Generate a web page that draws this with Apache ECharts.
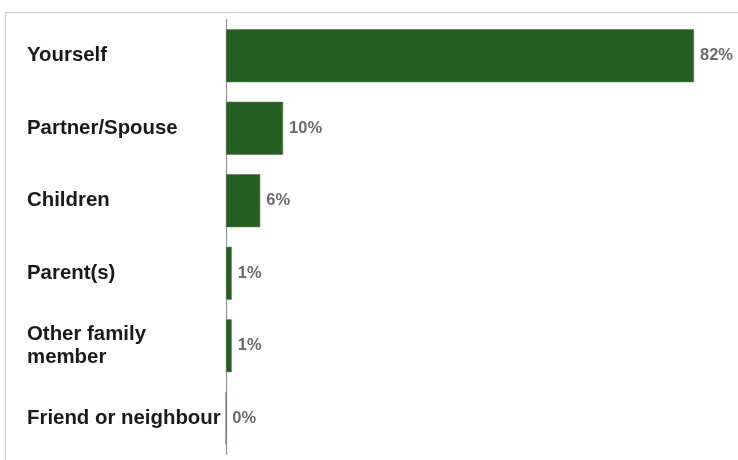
<!DOCTYPE html>
<html>
<head>
<meta charset="utf-8">
<script src="https://cdn.jsdelivr.net/npm/echarts@6/dist/echarts.min.js"></script>
<style>
  html, body { margin: 0; padding: 0; background: #fff; }
  #chart { width: 738px; height: 460px; }
</style>
</head>
<body>
<div id="chart"></div>
<script>
// Who the care is for, share of respondents (%)
const categories = ['Yourself', 'Partner/Spouse', 'Children', 'Parent(s)', 'Other family\nmember', 'Friend or neighbour'];
const shares = [82, 10, 6, 1, 1, 0];

const chart = echarts.init(document.getElementById('chart'));
chart.setOption({
  animation: false,
  grid: { left: 226, right: 44, top: 19.5, bottom: 5.5, containLabel: false },
  xAxis: {
    type: 'value', min: 0, max: 82,
    show: false
  },
  yAxis: {
    type: 'category',
    data: categories,
    inverse: true,
    axisLine: { show: true, lineStyle: { color: '#8c8c8c', width: 1 } },
    axisTick: { show: false },
    splitLine: { show: false },
    axisLabel: {
      align: 'left',
      margin: 199,
      color: '#1a1a1a',
      fontFamily: 'Liberation Sans, Arial, sans-serif',
      fontWeight: 'bold',
      fontSize: 20.4,
      lineHeight: 23
    }
  },
  series: [{
    type: 'bar',
    data: shares,
    barCategoryGap: '27%',
    itemStyle: { color: '#245e20', borderColor: '#4f8049', borderWidth: 0.6 },
    label: {
      show: true,
      position: 'right',
      distance: 6,
      formatter: '{c}%',
      color: '#6a6a6a',
      fontFamily: 'Liberation Sans, Arial, sans-serif',
      fontWeight: 'bold',
      fontSize: 16.5
    }
  }],
  graphic: [
    { type: 'line', shape: { x1: 5, y1: 12.5, x2: 738, y2: 12.5 }, style: { stroke: '#d2d2d2', lineWidth: 1.5 }, silent: true },
    { type: 'line', shape: { x1: 5.5, y1: 12, x2: 5.5, y2: 460 }, style: { stroke: '#d2d2d2', lineWidth: 1.5 }, silent: true }
  ]
});
</script>
</body>
</html>
